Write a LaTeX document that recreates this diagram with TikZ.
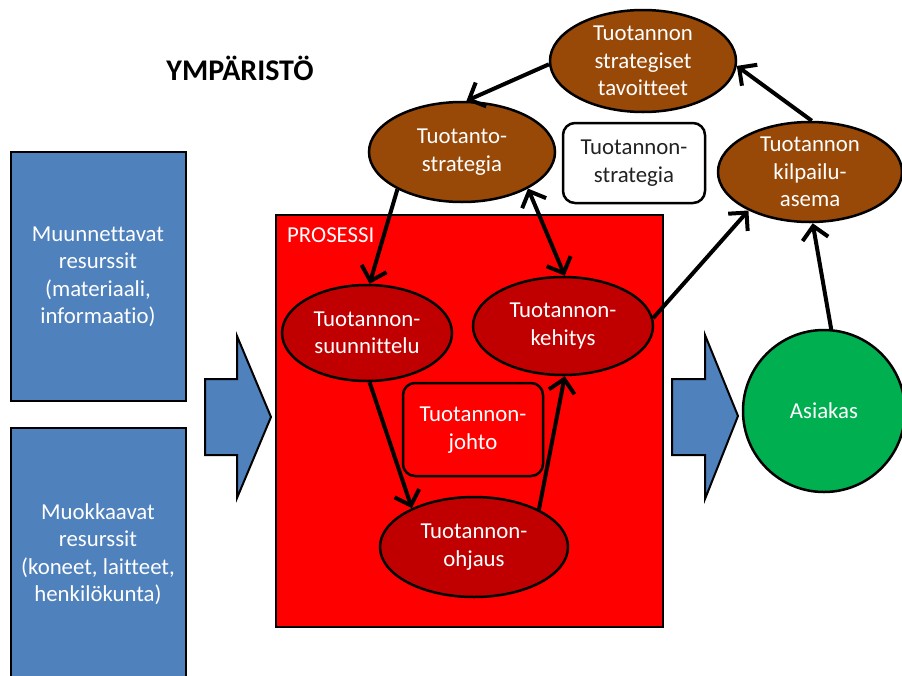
\documentclass[tikz,border=0pt]{standalone}
\usepackage{fontspec}
\setmainfont{Carlito}[Ligatures={NoCommon}]
\usetikzlibrary{shapes.geometric,arrows.meta}

\definecolor{resblue}{HTML}{4F81BD}
\definecolor{procred}{HTML}{FF0000}
\definecolor{darkred}{HTML}{C00000}
\definecolor{strbrown}{HTML}{984807}
\definecolor{custgreen}{HTML}{00B050}
\definecolor{darktext}{HTML}{222222}

\newcommand{\labelfont}{\fontsize{22.8}{27.5}\selectfont}

\tikzset{
  every node/.style={inner sep=0pt, align=center, font=\labelfont},
  oval/.style={ellipse, draw=black, line width=2.5pt, text=white},
  brownoval/.style={oval, fill=strbrown},
  redoval/.style={oval, fill=darkred},
  resbox/.style={draw=black, line width=2.5pt, fill=resblue},
  bigarrow/.style={draw=black, line width=2pt, fill=resblue, line join=miter},
  notebox/.style={draw=black, line width=2.5pt, rounded corners=12pt},
  barb/.tip={Straight Barb[length=13pt,width=26pt]},
  link/.style={line width=4pt, -barb},
  twolink/.style={line width=4pt, barb-barb},
}

\begin{document}
\begin{tikzpicture}[x=1pt, y=-1pt]
\useasboundingbox (0,0) rectangle (902,675);
\clip (0,0) rectangle (902,675);

% heading
\node[font=\fontsize{30}{34}\selectfont\bfseries] (env) at (240,68) {YMPÄRISTÖ};

% resource boxes on the left
\draw[resbox] (11,152) rectangle (186,401);
\node[text=white] (res1) at (98,277) {Muunnettavat\\resurssit\\(materiaali,\\informaatio)};
\draw[resbox] (11,428) rectangle (186,700);
\node[text=white] (res2) at (98,554) {Muokkaavat\\resurssit\\(koneet, laitteet,\\henkilökunta)};

% block arrows into and out of the process
\draw[bigarrow] (205,379) -- (237,379) -- (237,336) -- (271,417) -- (237,498) -- (237,455) -- (205,455) -- cycle;
\draw[bigarrow] (672,379) -- (705,379) -- (705,335) -- (738,416) -- (705,499) -- (705,455) -- (672,455) -- cycle;

% process area
\draw[draw=black, line width=2.5pt, fill=procred] (276,215) rectangle (663,627);
\node[anchor=west, text=white] (proc) at (287,235) {PROSESSI};

% process ellipses
\node[redoval, minimum width=170pt, minimum height=96pt] (suun) at (367,333) {Tuotannon-\\suunnittelu};
\node[redoval, minimum width=180pt, minimum height=98pt] (kehi) at (563,326) {Tuotannon-\\kehitys};
\node[redoval, minimum width=188pt, minimum height=100pt] (ohja) at (474,547) {Tuotannon-\\ohjaus};
\draw[notebox, fill=procred] (403,383) rectangle (543,476);
\node[text=white] (johto) at (473,430) {Tuotannon-\\johto};

% strategy ellipses
\node[brownoval, minimum width=186pt, minimum height=100pt] (tstr) at (462,152) {Tuotanto-\\strategia};
\node[brownoval, minimum width=186pt, minimum height=102pt] (tavo) at (643,61) {Tuotannon\\strategiset\\tavoitteet};
\node[brownoval, minimum width=184pt, minimum height=100pt] (kilp) at (810,172) {Tuotannon\\kilpailu-\\asema};
\draw[notebox, fill=white] (563,123) rectangle (705,203);
\node[text=darktext] (strat) at (634,163) {Tuotannon-\\strategia};

% customer
\node[circle, draw=black, line width=2.5pt, fill=custgreen, text=white, minimum size=162pt] (asia) at (824,411) {Asiakas};

% connectors
\draw[link] (tavo.182) -- (tstr.85);
\draw[link] (tstr.210) -- (suun.87);
\draw[twolink] (tstr.331) -- (kehi.88);
\draw[link] (suun.273) -- (ohja.148);
\draw[link] (ohja.30) -- (kehi.272);
\draw[link] (kehi.5) -- (kilp.212);
\draw[link] (asia.85) -- (kilp.273);
\draw[link] (kilp.88) -- (tavo.357);
\end{tikzpicture}
\end{document}
